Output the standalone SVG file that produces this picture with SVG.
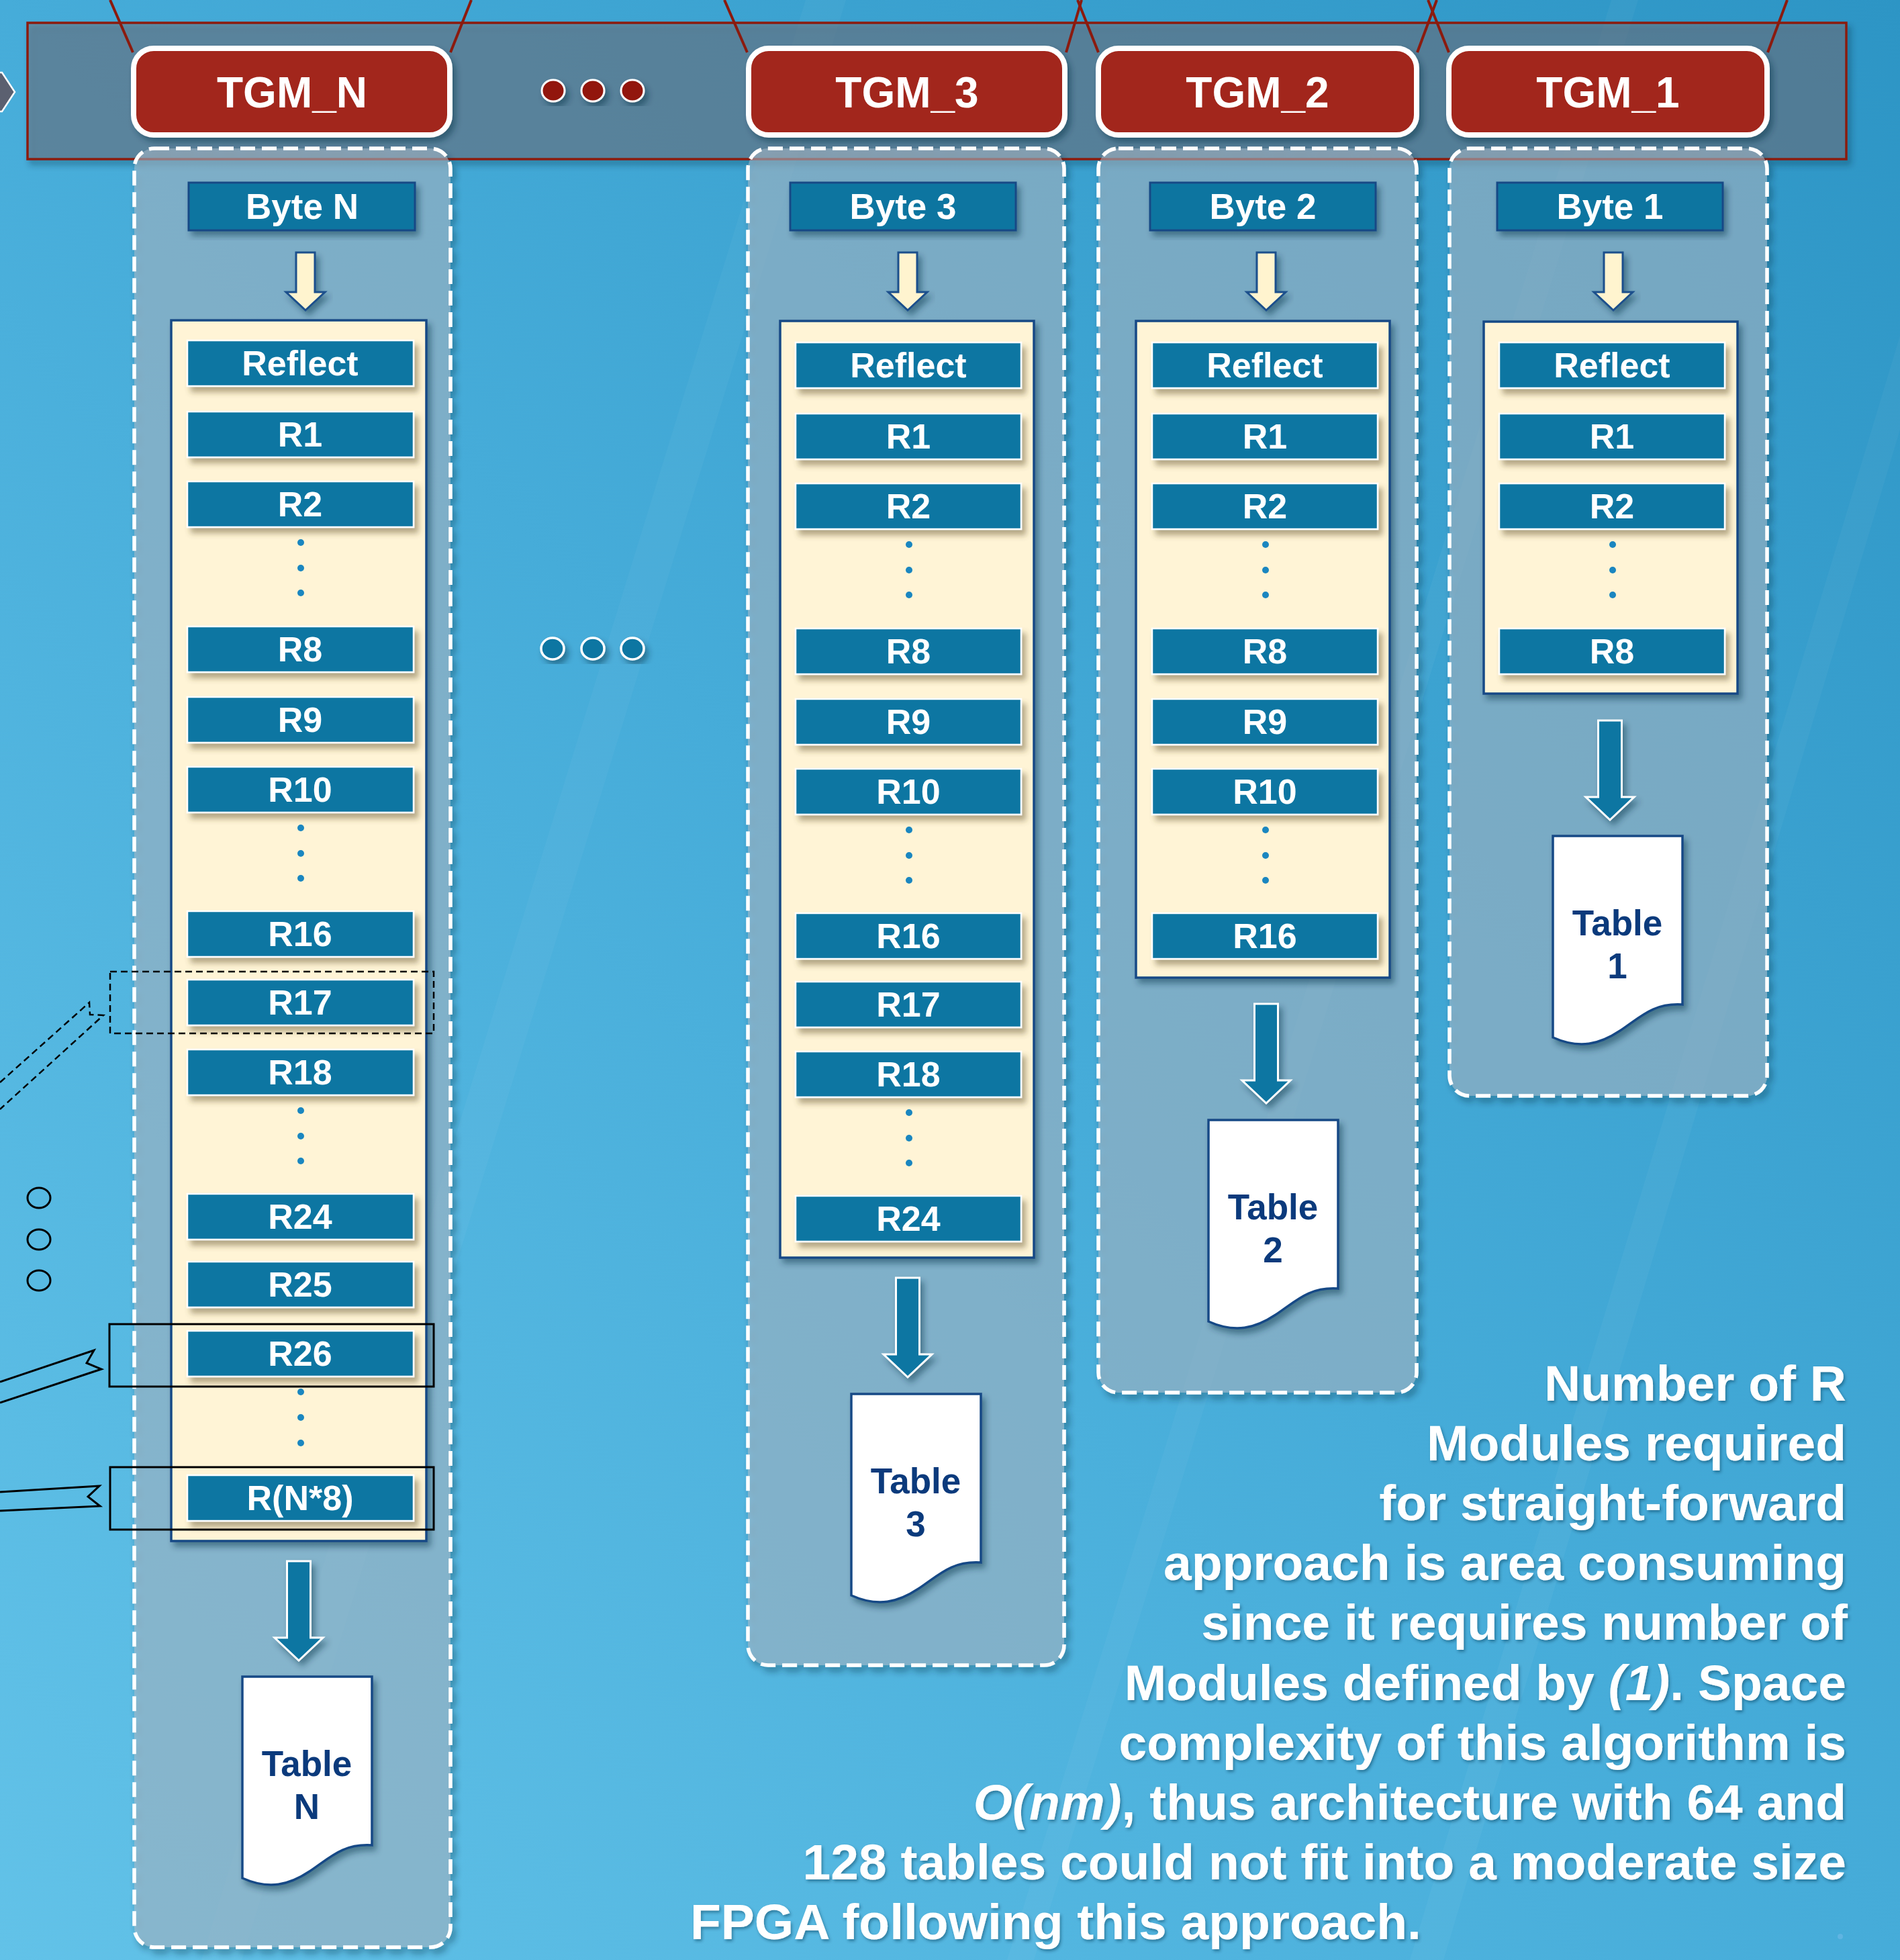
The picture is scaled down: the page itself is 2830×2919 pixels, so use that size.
<svg xmlns="http://www.w3.org/2000/svg" width="2830" height="2919" viewBox="0 0 2830 2919">
<defs>
<linearGradient id="bg" x1="1" y1="0" x2="0" y2="1">
<stop offset="0" stop-color="#2d95c5"/>
<stop offset="0.5" stop-color="#46acd9"/>
<stop offset="1" stop-color="#62c2e8"/>
</linearGradient>
<filter id="sh" x="-20%" y="-20%" width="140%" height="140%">
<feDropShadow dx="5" dy="7" stdDeviation="5" flood-color="#0a2a40" flood-opacity="0.45"/>
</filter>
<filter id="rs" x="-10%" y="-30%" width="125%" height="170%">
<feDropShadow dx="6" dy="8" stdDeviation="4" flood-color="#5a4a20" flood-opacity="0.45"/>
</filter>
<filter id="ts" x="-5%" y="-20%" width="110%" height="140%">
<feDropShadow dx="2" dy="3" stdDeviation="2" flood-color="#0a3050" flood-opacity="0.45"/>
</filter>
<style>
text{font-family:"Liberation Sans",Arial,sans-serif;font-weight:bold;text-anchor:middle}
.panel{fill:#b0bfce;fill-opacity:0.5;stroke:#fff;stroke-width:5.5;stroke-dasharray:22 10}
.tgm{fill:#a2261a;stroke:#fff;stroke-width:8}
.tgmt{fill:#fff;font-size:64px}
.byte{fill:#0f74a0;stroke:#174a86;stroke-width:3}
.bytet{fill:#fff;font-size:53px}
.stack{fill:#fff4d6;stroke:#174a86;stroke-width:3.5}
.row{fill:#0e76a2;stroke:#fff;stroke-width:2.5}
.rowt{fill:#fff;font-size:52px}
.dot{fill:#1a86c0}
.sarrow{fill:#fff4cf;stroke:#1b4f8c;stroke-width:3}
.barrow{fill:#0e76a2;stroke:#fff;stroke-width:3}
.doc{fill:#fff;stroke:#174a86;stroke-width:3.5}
.doct{fill:#0b3a7c;font-size:53px}
.red{stroke:#8b1a0e;stroke-width:4;fill:none}
.ann{fill:none;stroke:#000;stroke-width:3}
.annd{fill:none;stroke:#000;stroke-width:2.5;stroke-dasharray:10 6}
.para{fill:#fff;font-size:75px;text-anchor:end}
</style>
</defs>

<rect x="0" y="0" width="2830" height="2919" fill="url(#bg)"/>
<g opacity="0.035" fill="#fff">
<polygon points="300,2919 1200,0 1260,0 360,2919"/>
<polygon points="1500,2919 2400,0 2440,0 1540,2919"/>
<polygon points="2100,2919 2830,500 2830,640 2150,2919"/>
</g>

<g id="left-marker">
<polygon points="-6,108 3,108 22,137 3,166 -6,166" fill="#5b6070" stroke="#fff" stroke-width="2.5"/>
</g>

<g id="header-band">
<rect x="41" y="34" width="2709" height="203" fill="#72747f" fill-opacity="0.5" stroke="#8b1a0e" stroke-width="3.5" filter="url(#sh)"/>
</g>

<g id="panel-N"><rect class="panel" x="200" y="221" width="471" height="2679" rx="30" filter="url(#sh)"/></g>
<g id="panel-3"><rect class="panel" x="1114" y="221" width="471" height="2259" rx="30" filter="url(#sh)"/></g>
<g id="panel-2"><rect class="panel" x="1636" y="221" width="474" height="1853" rx="30" filter="url(#sh)"/></g>
<g id="panel-1"><rect class="panel" x="2159" y="221" width="473" height="1411" rx="30" filter="url(#sh)"/></g>

<g id="connectors">
<line class="red" x1="164" y1="0" x2="198" y2="78"/>
<line class="red" x1="702" y1="0" x2="671" y2="78"/>
<line class="red" x1="1079" y1="0" x2="1113" y2="78"/>
<line class="red" x1="1611" y1="0" x2="1588" y2="78"/>
<line class="red" x1="1605" y1="0" x2="1636" y2="78"/>
<line class="red" x1="2140" y1="0" x2="2111" y2="78"/>
<line class="red" x1="2127" y1="0" x2="2158" y2="78"/>
<line class="red" x1="2662" y1="0" x2="2633" y2="78"/>

<path class="sarrow" filter="url(#sh)" d="M441,376 H469 V435 H484 L455,462 L426,435 H441 Z"/>
<path class="sarrow" filter="url(#sh)" d="M1338,376 H1366 V435 H1381 L1352,462 L1323,435 H1338 Z"/>
<path class="sarrow" filter="url(#sh)" d="M1872,376 H1900 V435 H1915 L1886,462 L1857,435 H1872 Z"/>
<path class="sarrow" filter="url(#sh)" d="M2389,376 H2417 V435 H2432 L2403,462 L2374,435 H2389 Z"/>

<path class="barrow" filter="url(#sh)" d="M427.5,2325 H462.5 V2439 H481 L445,2473 L409,2439 H427.5 Z"/>
<path class="barrow" filter="url(#sh)" d="M1334.5,1903 H1369.5 V2017 H1388 L1352,2051 L1316,2017 H1334.5 Z"/>
<path class="barrow" filter="url(#sh)" d="M1868.5,1495 H1903.5 V1609 H1922 L1886,1643 L1850,1609 H1868.5 Z"/>
<path class="barrow" filter="url(#sh)" d="M2380.5,1073 H2415.5 V1187 H2434 L2398,1221 L2362,1187 H2380.5 Z"/>
</g>

<g id="dots-top" filter="url(#sh)">
<ellipse cx="824" cy="135" rx="17" ry="16" fill="#921408" stroke="#fff" stroke-width="3"/>
<ellipse cx="883" cy="135" rx="17" ry="16" fill="#921408" stroke="#fff" stroke-width="3"/>
<ellipse cx="942" cy="135" rx="17" ry="16" fill="#921408" stroke="#fff" stroke-width="3"/>
</g>
<g id="dots-middle" filter="url(#sh)">
<ellipse cx="823" cy="966" rx="17" ry="16" fill="#0e76a2" stroke="#fff" stroke-width="3.5"/>
<ellipse cx="883" cy="966" rx="17" ry="16" fill="#0e76a2" stroke="#fff" stroke-width="3.5"/>
<ellipse cx="942" cy="966" rx="17" ry="16" fill="#0e76a2" stroke="#fff" stroke-width="3.5"/>
</g>

<g id="tgm-N"><rect class="tgm" x="199" y="72" width="471" height="129" rx="30" filter="url(#sh)"/><text class="tgmt" x="435" y="160">TGM_N</text></g>
<g id="tgm-3"><rect class="tgm" x="1115" y="72" width="471" height="129" rx="30" filter="url(#sh)"/><text class="tgmt" x="1351" y="160">TGM_3</text></g>
<g id="tgm-2"><rect class="tgm" x="1636" y="72" width="474" height="129" rx="30" filter="url(#sh)"/><text class="tgmt" x="1873" y="160">TGM_2</text></g>
<g id="tgm-1"><rect class="tgm" x="2158" y="72" width="474" height="129" rx="30" filter="url(#sh)"/><text class="tgmt" x="2395" y="160">TGM_1</text></g>

<g id="byte-N"><rect class="byte" x="281" y="272" width="337" height="71" filter="url(#sh)"/><text class="bytet" x="450" y="326">Byte N</text></g>
<g id="byte-3"><rect class="byte" x="1177" y="272" width="336" height="71" filter="url(#sh)"/><text class="bytet" x="1345" y="326">Byte 3</text></g>
<g id="byte-2"><rect class="byte" x="1713" y="272" width="336" height="71" filter="url(#sh)"/><text class="bytet" x="1881" y="326">Byte 2</text></g>
<g id="byte-1"><rect class="byte" x="2230" y="272" width="336" height="71" filter="url(#sh)"/><text class="bytet" x="2398" y="326">Byte 1</text></g>

<g id="stack-N">
<rect class="stack" x="255" y="477" width="380" height="1818" filter="url(#sh)"/>
<g filter="url(#rs)">
<rect class="row" x="279" y="507" width="337" height="68"/>
<rect class="row" x="279" y="613" width="337" height="68"/>
<rect class="row" x="279" y="717" width="337" height="68"/>
<rect class="row" x="279" y="933" width="337" height="68"/>
<rect class="row" x="279" y="1038" width="337" height="68"/>
<rect class="row" x="279" y="1142" width="337" height="68"/>
<rect class="row" x="279" y="1357" width="337" height="68"/>
<rect class="row" x="279" y="1459" width="337" height="68"/>
<rect class="row" x="279" y="1563" width="337" height="68"/>
<rect class="row" x="279" y="1778" width="337" height="68"/>
<rect class="row" x="279" y="1879" width="337" height="68"/>
<rect class="row" x="279" y="1982" width="337" height="68"/>
<rect class="row" x="279" y="2197" width="337" height="68"/>
</g>
<text class="rowt" x="447" y="559">Reflect</text>
<text class="rowt" x="447" y="665">R1</text>
<text class="rowt" x="447" y="769">R2</text>
<text class="rowt" x="447" y="985">R8</text>
<text class="rowt" x="447" y="1090">R9</text>
<text class="rowt" x="447" y="1194">R10</text>
<text class="rowt" x="447" y="1409">R16</text>
<text class="rowt" x="447" y="1511">R17</text>
<text class="rowt" x="447" y="1615">R18</text>
<text class="rowt" x="447" y="1830">R24</text>
<text class="rowt" x="447" y="1931">R25</text>
<text class="rowt" x="447" y="2034">R26</text>
<text class="rowt" x="447" y="2249">R(N*8)</text>
<circle class="dot" cx="448" cy="808" r="5"/><circle class="dot" cx="448" cy="846" r="5"/><circle class="dot" cx="448" cy="883" r="5"/>
<circle class="dot" cx="448" cy="1233" r="5"/><circle class="dot" cx="448" cy="1271" r="5"/><circle class="dot" cx="448" cy="1308" r="5"/>
<circle class="dot" cx="448" cy="1654" r="5"/><circle class="dot" cx="448" cy="1692" r="5"/><circle class="dot" cx="448" cy="1729" r="5"/>
<circle class="dot" cx="448" cy="2073" r="5"/><circle class="dot" cx="448" cy="2111" r="5"/><circle class="dot" cx="448" cy="2149" r="5"/>
</g>

<g id="stack-3">
<rect class="stack" x="1162" y="478" width="378" height="1395" filter="url(#sh)"/>
<g filter="url(#rs)">
<rect class="row" x="1185" y="510" width="336" height="68"/>
<rect class="row" x="1185" y="616" width="336" height="68"/>
<rect class="row" x="1185" y="720" width="336" height="68"/>
<rect class="row" x="1185" y="936" width="336" height="68"/>
<rect class="row" x="1185" y="1041" width="336" height="68"/>
<rect class="row" x="1185" y="1145" width="336" height="68"/>
<rect class="row" x="1185" y="1360" width="336" height="68"/>
<rect class="row" x="1185" y="1462" width="336" height="68"/>
<rect class="row" x="1185" y="1566" width="336" height="68"/>
<rect class="row" x="1185" y="1781" width="336" height="68"/>
</g>
<text class="rowt" x="1353" y="562">Reflect</text>
<text class="rowt" x="1353" y="668">R1</text>
<text class="rowt" x="1353" y="772">R2</text>
<text class="rowt" x="1353" y="988">R8</text>
<text class="rowt" x="1353" y="1093">R9</text>
<text class="rowt" x="1353" y="1197">R10</text>
<text class="rowt" x="1353" y="1412">R16</text>
<text class="rowt" x="1353" y="1514">R17</text>
<text class="rowt" x="1353" y="1618">R18</text>
<text class="rowt" x="1353" y="1833">R24</text>
<circle class="dot" cx="1354" cy="811" r="5"/><circle class="dot" cx="1354" cy="849" r="5"/><circle class="dot" cx="1354" cy="886" r="5"/>
<circle class="dot" cx="1354" cy="1236" r="5"/><circle class="dot" cx="1354" cy="1274" r="5"/><circle class="dot" cx="1354" cy="1311" r="5"/>
<circle class="dot" cx="1354" cy="1657" r="5"/><circle class="dot" cx="1354" cy="1695" r="5"/><circle class="dot" cx="1354" cy="1732" r="5"/>
</g>

<g id="stack-2">
<rect class="stack" x="1692" y="478" width="378" height="978" filter="url(#sh)"/>
<g filter="url(#rs)">
<rect class="row" x="1716" y="510" width="336" height="68"/>
<rect class="row" x="1716" y="616" width="336" height="68"/>
<rect class="row" x="1716" y="720" width="336" height="68"/>
<rect class="row" x="1716" y="936" width="336" height="68"/>
<rect class="row" x="1716" y="1041" width="336" height="68"/>
<rect class="row" x="1716" y="1145" width="336" height="68"/>
<rect class="row" x="1716" y="1360" width="336" height="68"/>
</g>
<text class="rowt" x="1884" y="562">Reflect</text>
<text class="rowt" x="1884" y="668">R1</text>
<text class="rowt" x="1884" y="772">R2</text>
<text class="rowt" x="1884" y="988">R8</text>
<text class="rowt" x="1884" y="1093">R9</text>
<text class="rowt" x="1884" y="1197">R10</text>
<text class="rowt" x="1884" y="1412">R16</text>
<circle class="dot" cx="1885" cy="811" r="5"/><circle class="dot" cx="1885" cy="849" r="5"/><circle class="dot" cx="1885" cy="886" r="5"/>
<circle class="dot" cx="1885" cy="1236" r="5"/><circle class="dot" cx="1885" cy="1274" r="5"/><circle class="dot" cx="1885" cy="1311" r="5"/>
</g>

<g id="stack-1">
<rect class="stack" x="2210" y="479" width="378" height="554" filter="url(#sh)"/>
<g filter="url(#rs)">
<rect class="row" x="2233" y="510" width="336" height="68"/>
<rect class="row" x="2233" y="616" width="336" height="68"/>
<rect class="row" x="2233" y="720" width="336" height="68"/>
<rect class="row" x="2233" y="936" width="336" height="68"/>
</g>
<text class="rowt" x="2401" y="562">Reflect</text>
<text class="rowt" x="2401" y="668">R1</text>
<text class="rowt" x="2401" y="772">R2</text>
<text class="rowt" x="2401" y="988">R8</text>
<circle class="dot" cx="2402" cy="811" r="5"/><circle class="dot" cx="2402" cy="849" r="5"/><circle class="dot" cx="2402" cy="886" r="5"/>
</g>

<g id="table-N"><path class="doc" filter="url(#sh)" transform="translate(361,2497)" d="M0,0 H193 V251 C150,248 130,270 100,290 C70,310 40,318 0,300 Z"/><text class="doct" x="457" y="2645">Table</text><text class="doct" x="457" y="2709">N</text></g>
<g id="table-3"><path class="doc" filter="url(#sh)" transform="translate(1268,2076)" d="M0,0 H193 V251 C150,248 130,270 100,290 C70,310 40,318 0,300 Z"/><text class="doct" x="1364" y="2224">Table</text><text class="doct" x="1364" y="2288">3</text></g>
<g id="table-2"><path class="doc" filter="url(#sh)" transform="translate(1800,1668)" d="M0,0 H193 V251 C150,248 130,270 100,290 C70,310 40,318 0,300 Z"/><text class="doct" x="1896" y="1816">Table</text><text class="doct" x="1896" y="1880">2</text></g>
<g id="table-1"><path class="doc" filter="url(#sh)" transform="translate(2313,1245)" d="M0,0 H193 V251 C150,248 130,270 100,290 C70,310 40,318 0,300 Z"/><text class="doct" x="2409" y="1393">Table</text><text class="doct" x="2409" y="1457">1</text></g>

<g id="annotations">
<rect class="annd" x="164" y="1447" width="482" height="92"/>
<polyline class="annd" points="0,1612 133,1493 134,1511 154,1512 0,1652"/>
<rect class="ann" x="163" y="1972" width="483" height="93"/>
<polyline class="ann" points="0,2058 140,2011 129,2030 151,2039 0,2089"/>
<rect class="ann" x="164" y="2185" width="482" height="93"/>
<polyline class="ann" points="0,2222 148,2213 131,2229 149,2243 0,2250"/>
<ellipse class="ann" cx="58" cy="1784" rx="17" ry="15"/>
<ellipse class="ann" cx="58" cy="1846" rx="17" ry="15"/>
<ellipse class="ann" cx="58" cy="1907" rx="17" ry="15"/>
</g>

<g id="description" filter="url(#ts)">
<text class="para" x="2750" y="2086">Number of R</text>
<text class="para" x="2750" y="2175">Modules required</text>
<text class="para" x="2750" y="2264">for straight-forward</text>
<text class="para" x="2750" y="2353">approach is area consuming</text>
<text class="para" x="2752" y="2442">since it requires number of</text>
<text class="para" x="2750" y="2532">Modules defined by <tspan font-style="italic">(1)</tspan>. Space</text>
<text class="para" x="2750" y="2621">complexity of this algorithm is</text>
<text class="para" x="2750" y="2710"><tspan font-style="italic">O(nm)</tspan>, thus architecture with 64 and</text>
<text class="para" x="2750" y="2799">128 tables could not fit into a moderate size</text>
<text class="para" x="1028" y="2888" style="text-anchor:start">FPGA following this approach.</text>
</g>
<circle cx="2741" cy="2884" r="4" fill="#6bb8e6" opacity="0.7"/>
</svg>
